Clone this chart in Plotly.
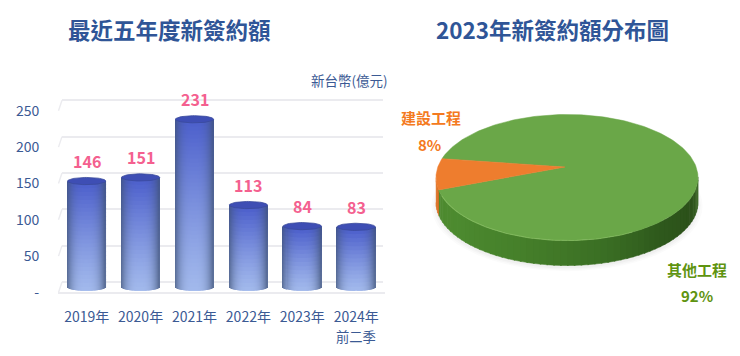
import math
import plotly.graph_objects as go

# ---------- data ----------
years = ["2019年", "2020年", "2021年", "2022年", "2023年", "2024年"]
bar_values = [146, 151, 231, 113, 84, 83]
y_ticks = [0, 50, 100, 150, 200, 250]
y_tick_labels = ["-", "50", "100", "150", "200", "250"]
pie_labels = ["建設工程", "其他工程"]
pie_values = [8, 92]
pie_value_labels = ["8%", "92%"]
left_title = "最近五年度新簽約額"
right_title = "2023年新簽約額分布圖"
unit_label = "新台幣(億元)"
period_note = "前二季"

# ---------- style / layout ----------
W, H = 740, 356
FONT = "Noto Sans CJK TC"
NAVY = "#3b5a94"
TITLE = "#2f5597"
PINK = "#f4608f"
ORANGE = "#f47a20"
GREEN_TXT = "#5f9410"
GRID = "#ebebef"

T, B = 60, 302          # plot band, px from the top
XL, XR = 58, 385        # category band, px
PX_Y = 0.727            # px per unit of value
CAT0, CAT_STEP = 86.7, 53.9
BAR_W = 0.355           # half-width, category units
CAP = 3.6 / PX_Y        # cap's vertical radius, value units
PLANE_BACK, PLANE_BAR, PLANE_FRONT = 282.0, 287.2, 292.5


def yrange(zero_px):
    return [(zero_px - B) / PX_Y, (zero_px - T) / PX_Y]


def hexrgb(c):
    return tuple(int(c[i:i + 2], 16) for i in (1, 3, 5))


def mix(a, b, t):
    return tuple(a[i] + (b[i] - a[i]) * t for i in range(3))


def rgb(c):
    return "rgb(%d,%d,%d)" % tuple(round(v) for v in c)


fig = go.Figure()

# back wall: an empty trace brings the grid's subplot in first, so it lies under the bars
fig.add_trace(go.Scatter(x=[0], y=[0], mode="markers", marker=dict(opacity=0), xaxis="x", yaxis="y",
                         showlegend=False, hoverinfo="skip"))

# real bars, underneath the shading
fig.add_trace(go.Bar(x=list(range(len(years))), y=bar_values, width=BAR_W * 2,
                     marker=dict(color="#6f86cf", line=dict(width=0)),
                     xaxis="x2", yaxis="y2", name="新簽約額"))

# front plane: carries the value labels
fig.add_trace(go.Scatter(x=[0], y=[0], mode="markers", marker=dict(opacity=0), xaxis="x2", yaxis="y3",
                         showlegend=False, hoverinfo="skip"))

# cylinder shading: each bar's value decides its cell stack
TOP_C, BOT_C, EDGE_C = hexrgb("#4d60cc"), hexrgb("#a2b9ec"), hexrgb("#3f5276")
STRIPS = 38
for i, v in enumerate(bar_values):
    xs, bases, hs, cols = [], [], [], []
    segs = max(8, round(v * PX_Y / 4))
    for s in range(STRIPS):
        u = (s + .5) / STRIPS * 2 - 1
        curve = CAP * math.sqrt(max(0, 1 - u * u))
        lo, hi = -curve, v - curve + 0.6
        shade = abs(u) ** 3 * 0.75
        for m in range(segs):
            a = lo + (hi - lo) * m / segs
            b = lo + (hi - lo) * (m + 1) / segs
            c = mix(BOT_C, TOP_C, min(1, ((m + .5) / segs) ** 1.15))
            xs.append(i + u * BAR_W)
            bases.append(a)
            hs.append(b - a + (2.0 if m < segs - 1 else 0.3))
            cols.append(rgb(mix(c, EDGE_C, shade)))
    fig.add_trace(go.Bar(x=xs, y=hs, base=bases, width=BAR_W * 2 / STRIPS * 1.4,
                         marker=dict(color=cols, line=dict(width=0)),
                         xaxis="x2", yaxis="y2", showlegend=False, hoverinfo="skip"))

# cylinder caps
cap_x, cap_y = [], []
for i, v in enumerate(bar_values):
    for k in range(61):
        t = 2 * math.pi * k / 60
        cap_x.append(i + BAR_W * math.cos(t))
        cap_y.append(v + CAP * math.sin(t))
    cap_x.append(None)
    cap_y.append(None)
fig.add_trace(go.Scatter(x=cap_x, y=cap_y, mode="lines", fill="toself",
                         fillcolor="#3e4eb4", line=dict(color="#3a4a9c", width=0.8),
                         xaxis="x2", yaxis="y2", showlegend=False, hoverinfo="skip"))

# ---------- 3-D pie on its own unit axes ----------
PCX, PCY, RX, RY = 567.0, 177.5, 131.0, 63.0
PXL, PXR, PYT, PYB = 425, 715, 100, 285
DEPTH = 25.0 / RY
APEX = (-2.0 / RX, 10.5 / RY)
WEDGE_START = 162.6
span = pie_values[0] / sum(pie_values) * 360


def arc(a0, a1, dy=0.0, n=60):
    xs, ys = [], []
    for k in range(n + 1):
        t = math.radians(a0 + (a1 - a0) * k / n)
        xs.append(math.cos(t))
        ys.append(math.sin(t) - dy)
    return xs, ys


def poly(xs, ys, color, line=0):
    fig.add_trace(go.Scatter(x=xs, y=ys, mode="lines", fill="toself", fillcolor=color,
                             line=dict(color=color, width=line), xaxis="x3", yaxis="y4",
                             showlegend=False, hoverinfo="skip"))


# soft shadow
for grow, alpha in ((1.035, .025), (1.02, .03), (1.005, .04)):
    xs, ys = arc(0, 360, DEPTH + .04)
    poly([x * grow for x in xs], [y * grow for y in ys], "rgba(90,90,90,%g)" % alpha)

# side wall, shaded along the rim
stops = [(180, "#4f8a30"), (215, "#4c8a2f"), (250, "#457f2a"), (285, "#3b6f24"),
         (315, "#2e591c"), (340, "#2c501a"), (360, "#3a6824")]
wedge_end = WEDGE_START + span
STEP = 3
for a in range(180, 360, STEP):
    mid = a + STEP / 2
    if mid < wedge_end:
        col = "#dc6f22"
    else:
        for (a0, c0), (a1, c1) in zip(stops, stops[1:]):
            if a0 <= mid <= a1:
                col = rgb(mix(hexrgb(c0), hexrgb(c1), (mid - a0) / (a1 - a0)))
                break
    x0, y0 = arc(a, a + STEP + 0.6, 0, 3)
    x1, y1 = arc(a + STEP + 0.6, a, DEPTH, 3)
    poly(x0 + x1, y0 + y1, col, 0.5)

# top face: the slices' shares set the angles
x_g, y_g = arc(wedge_end, WEDGE_START + 360, 0, 240)
poly([APEX[0]] + x_g + [APEX[0]], [APEX[1]] + y_g + [APEX[1]], "#6aa748", 0.5)
x_o, y_o = arc(WEDGE_START, wedge_end, 0, 24)
poly([APEX[0]] + x_o + [APEX[0]], [APEX[1]] + y_o + [APEX[1]], "#ee7d2e", 0.5)

# light bevel on the front rim
x_r, y_r = arc(197, 300, 0, 60)
fig.add_trace(go.Scatter(x=x_r, y=y_r, mode="lines", line=dict(color="rgba(150,205,110,.45)", width=1.1),
                         xaxis="x3", yaxis="y4", showlegend=False, hoverinfo="skip"))

# ---------- annotations ----------
def px_x(p):
    return p / W


def px_y(p):
    return 1 - p / H


def note(text, x, y, size, color, bold=False, anchor="center"):
    fig.add_annotation(text=("<b>%s</b>" % text) if bold else text, x=px_x(x), y=px_y(y),
                       xref="paper", yref="paper", xanchor=anchor, yanchor="middle",
                       showarrow=False, font=dict(family=FONT, size=size, color=color))


note(left_title, 169.5, 29, 22.5, TITLE, True)
note(right_title, 552.5, 29, 22.5, TITLE, True)
note(unit_label, 390, 80, 13.5, NAVY, anchor="right")
note(period_note, 356, 336.5, 13.3, NAVY)
note(pie_labels[0], 430.7, 117.7, 15, ORANGE, True)
note(pie_value_labels[0], 430, 144, 15, ORANGE, True)
note(pie_labels[1], 696.7, 269.3, 15, GREEN_TXT, True)
note(pie_value_labels[1], 697, 295.7, 15, GREEN_TXT, True)

for i, v in enumerate(bar_values):
    fig.add_annotation(text="<b>%d</b>" % v, x=i, y=v, xref="x2", yref="y2", yshift=20, showarrow=False,
                       xanchor="center", yanchor="middle",
                       font=dict(family=FONT, size=16, color=PINK))

# short floor-to-wall diagonals at the left of each grid line
for t in y_ticks:
    y0 = PLANE_FRONT - t * PX_Y
    y1 = PLANE_BACK - t * PX_Y
    fig.add_shape(type="line", xref="paper", yref="paper", x0=px_x(58.5), x1=px_x(62),
                  y0=px_y(y0), y1=px_y(y1), line=dict(color=GRID, width=1.4), layer="below")

# ---------- axes ----------
fig.update_layout(
    width=W, height=H, margin=dict(l=0, r=0, t=0, b=0), autosize=False,
    paper_bgcolor="white", plot_bgcolor="rgba(0,0,0,0)", showlegend=False, barmode="overlay",
    font=dict(family=FONT, color=NAVY),
    # back wall, carries the grid
    xaxis=dict(domain=[px_x(62), px_x(383)], range=[0, 1], visible=False, anchor="y"),
    yaxis=dict(domain=[px_y(B), px_y(T)], range=yrange(PLANE_BACK), anchor="x",
               tickmode="array", tickvals=y_ticks, showticklabels=False, ticks="",
               showgrid=True, gridcolor=GRID, gridwidth=2, zeroline=False, showline=False),
    # categories
    xaxis2=dict(domain=[px_x(XL), px_x(XR)],
                range=[(XL - CAT0) / CAT_STEP, (XR - CAT0) / CAT_STEP],
                tickmode="array", tickvals=list(range(len(years))), ticktext=years,
                tickfont=dict(family=FONT, size=14, color=NAVY), showgrid=False, zeroline=False,
                showline=False, ticks="outside", ticklen=2, tickcolor="rgba(0,0,0,0)", anchor="y3"),
    # bar plane
    yaxis2=dict(domain=[px_y(B), px_y(T)], range=yrange(PLANE_BAR), anchor="x2",
                visible=False),
    # front plane, carries the labels
    yaxis3=dict(domain=[px_y(B), px_y(T)], range=yrange(PLANE_FRONT), anchor="x2",
                tickmode="array", tickvals=y_ticks, ticktext=y_tick_labels,
                tickfont=dict(family=FONT, size=14, color=NAVY),
                ticks="outside", ticklen=15, tickcolor="rgba(0,0,0,0)",
                showgrid=False, zeroline=True, zerolinecolor=GRID, zerolinewidth=2, showline=False),
    # pie
    xaxis3=dict(domain=[px_x(PXL), px_x(PXR)],
                range=[(PXL - PCX) / RX, (PXR - PCX) / RX], visible=False, anchor="y4"),
    yaxis4=dict(domain=[px_y(PYB), px_y(PYT)],
                range=[(PCY - PYB) / RY, (PCY - PYT) / RY], visible=False, anchor="x3"),
)

fig.write_html("out.html", config={"displayModeBar": False},
               post_script="document.body.style.margin='0';")
